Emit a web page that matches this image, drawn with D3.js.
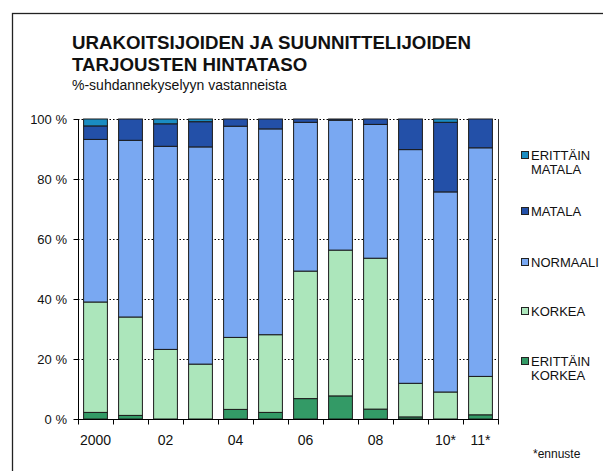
<!DOCTYPE html>
<html>
<head>
<meta charset="utf-8">
<script src="https://cdn.jsdelivr.net/npm/d3@7"></script>
<style>
  body { margin: 0; background: #fff; }
  text { font-family: Arial, "Liberation Sans", sans-serif; fill: #111; }
</style>
</head>
<body>
<div id="chart"></div>
<script>
// data (% of respondents)
const years = ["2000", "01", "02", "03", "04", "05", "06", "07", "08", "09", "10*", "11*"];
const tickLabels = ["2000", "", "02", "", "04", "", "06", "", "08", "", "10*", "11*"];
const erittainKorkea = [2.2, 1.2, 0, 0, 3.2, 2.2, 6.8, 7.7, 3.3, 0.7, 0, 1.4];
const korkea         = [36.8, 32.8, 23.2, 18.3, 24.0, 25.9, 42.5, 48.6, 50.3, 11.2, 9.0, 12.8];
const normaali       = [54.2, 58.9, 67.7, 72.4, 70.4, 68.6, 49.6, 43.3, 44.6, 77.9, 66.7, 76.2];
const matala         = [4.5, 7.1, 7.5, 8.4, 2.4, 3.3, 1.1, 0.4, 1.8, 10.2, 23.2, 9.6];
const erittainMatala = [2.3, 0, 1.6, 0.9, 0, 0, 0, 0, 0, 0, 1.1, 0];
const yTicks = [0, 20, 40, 60, 80, 100];

const series = [
  {key: "ek", name: ["ERITTÄIN", "KORKEA"], values: erittainKorkea, color: "#339a66"},
  {key: "k",  name: ["KORKEA"],             values: korkea,         color: "#ace6bb"},
  {key: "n",  name: ["NORMAALI"],           values: normaali,       color: "#79a8f2"},
  {key: "m",  name: ["MATALA"],             values: matala,         color: "#2350a8"},
  {key: "em", name: ["ERITTÄIN", "MATALA"], values: erittainMatala, color: "#1a8cc2"}
];

const width = 603, height = 471;
const plot = {left: 78, right: 498, top: 119, bottom: 419};

const table = years.map((y, i) => {
  const row = {year: y};
  series.forEach(s => row[s.key] = s.values[i]);
  return row;
});
const stacked = d3.stack().keys(series.map(s => s.key))(table);

const x = d3.scaleBand()
    .domain(years)
    .range([plot.left, plot.right])
    .paddingInner(0.32)
    .paddingOuter(0.16);
const y = d3.scaleLinear()
    .domain([0, 100])
    .range([plot.bottom, plot.top]);

const svg = d3.select("#chart").append("svg")
    .attr("width", width)
    .attr("height", height);

// outer frame (runs off the picture at right and bottom)
svg.append("rect")
    .attr("x", 12.5).attr("y", 13.5)
    .attr("width", 700).attr("height", 600)
    .attr("fill", "none")
    .attr("stroke", "#222")
    .attr("stroke-width", 1.3);

// titles
svg.append("text")
    .attr("x", 72).attr("y", 49)
    .attr("font-size", 18.7).attr("font-weight", "bold")
    .text("URAKOITSIJOIDEN JA SUUNNITTELIJOIDEN");
svg.append("text")
    .attr("x", 72).attr("y", 70.5)
    .attr("font-size", 18.7).attr("font-weight", "bold")
    .text("TARJOUSTEN HINTATASO");
svg.append("text")
    .attr("x", 72).attr("y", 89.5)
    .attr("font-size", 14)
    .text("%-suhdannekyselyyn vastanneista");

// gridlines
svg.append("g")
  .selectAll("line")
  .data(yTicks.filter(d => d > 0))
  .join("line")
    .attr("x1", plot.left).attr("x2", plot.right)
    .attr("y1", d => Math.round(y(d)) + 0.5)
    .attr("y2", d => Math.round(y(d)) + 0.5)
    .attr("stroke", "#000")
    .attr("stroke-dasharray", "1.5,2");

// bars
svg.append("g")
  .selectAll("g")
  .data(stacked)
  .join("g")
    .attr("fill", (d, i) => series[i].color)
  .selectAll("rect")
  .data(d => d.filter(p => p[1] - p[0] > 0))
  .join("rect")
    .attr("x", d => x(d.data.year))
    .attr("y", d => y(d[1]))
    .attr("width", x.bandwidth())
    .attr("height", d => y(d[0]) - y(d[1]))
    .attr("stroke", "#1a1a1a")
    .attr("stroke-width", 1);

// right border of plot area
svg.append("line")
    .attr("x1", plot.right + 0.5).attr("x2", plot.right + 0.5)
    .attr("y1", plot.top).attr("y2", plot.bottom)
    .attr("stroke", "#333");

// y axis
const yAxis = svg.append("g")
    .attr("transform", `translate(${plot.left + 0.5},0)`)
    .call(d3.axisLeft(y).tickValues(yTicks).tickSize(5).tickPadding(6.5)
      .tickFormat(d => d + " %"));
yAxis.selectAll("text").attr("font-size", 13).attr("font-family", null).attr("fill", "#111");
yAxis.selectAll("path, line").attr("stroke", "#000");
yAxis.select(".domain").attr("d", `M0,${plot.top}V${plot.bottom}`);

// x axis: ticks between categories
const step = x.step();
const x0 = plot.left;
const xAxis = svg.append("g")
    .attr("transform", `translate(0,${plot.bottom + 0.5})`);
xAxis.append("line")
    .attr("x1", plot.left).attr("x2", plot.right + 1)
    .attr("stroke", "#000");
xAxis.selectAll("line.tick")
  .data(d3.range(years.length + 1))
  .join("line")
    .attr("class", "tick")
    .attr("x1", i => Math.round(x0 + i * step) + 0.5)
    .attr("x2", i => Math.round(x0 + i * step) + 0.5)
    .attr("y1", 0).attr("y2", 5)
    .attr("stroke", "#000");
xAxis.selectAll("text")
  .data(years)
  .join("text")
    .attr("x", (d, i) => x(d) + x.bandwidth() / 2)
    .attr("y", 25.5)
    .attr("text-anchor", "middle")
    .attr("font-size", 14)
    .text((d, i) => tickLabels[i]);

// legend (top = erittäin matala)
const legendY = {em: 155, m: 211, n: 262, k: 311, ek: 361};
const legend = svg.append("g")
  .selectAll("g")
  .data(series.slice().reverse())
  .join("g")
    .attr("transform", d => `translate(521,${legendY[d.key]})`);
legend.append("rect")
    .attr("x", 0.5).attr("y", -3.5)
    .attr("width", 7).attr("height", 7)
    .attr("fill", d => d.color)
    .attr("stroke", "#222");
legend.append("text")
    .attr("x", 10)
    .attr("font-size", 13)
    .selectAll("tspan")
    .data(d => d.name)
    .join("tspan")
      .attr("x", 10)
      .attr("y", (d, i) => 4.5 + i * 14)
      .text(d => d);

svg.append("text")
    .attr("x", 533).attr("y", 458)
    .attr("font-size", 12)
    .text("*ennuste");
</script>
</body>
</html>
